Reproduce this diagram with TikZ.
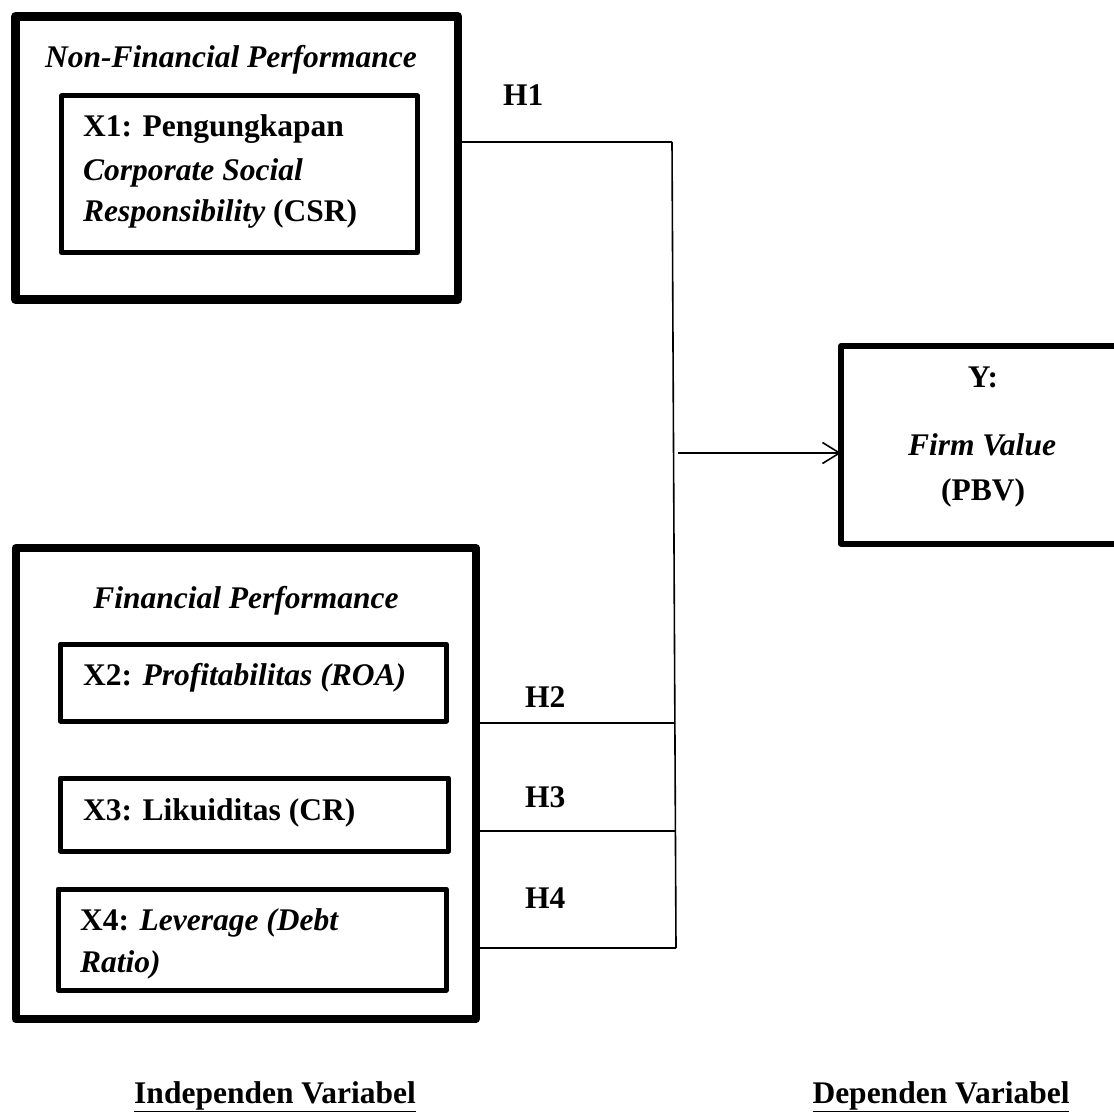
\documentclass[tikz,border=0pt]{standalone}
\usepackage{fontspec}
\setmainfont{Liberation Serif}
\usetikzlibrary{arrows.meta}
\begin{document}
\begin{tikzpicture}[x=1pt,y=-1pt,
  outerbox/.style={draw, line width=8.5pt, line join=round, inner sep=0pt, outer sep=0pt},
  innerbox/.style={draw, line width=5pt, line join=round, inner sep=0pt, outer sep=0pt},
  ybox/.style={draw, line width=6pt, line join=round, inner sep=0pt, outer sep=0pt},
  txt/.style={inner sep=0pt, font=\fontsize{31.5}{42}\selectfont\bfseries},
  conn/.style={line width=1.6pt}]
\clip (0,0) rectangle (1114,1113);
\fill[white] (0,0) rectangle (1114,1113);

% boxes
\node[outerbox, minimum width=442.5pt, minimum height=283pt] (o1) at (236.75,158) {};
\node[innerbox, minimum width=356pt, minimum height=156.5pt] (x1) at (239.5,174.25) {};
\node[outerbox, line width=8pt, minimum width=460.5pt, minimum height=471pt] (o2) at (245.75,783.5) {};
\node[innerbox, minimum width=385.5pt, minimum height=77pt] (x2) at (253.25,682.5) {};
\node[innerbox, minimum width=388pt, minimum height=73pt] (x3) at (254.5,814.5) {};
\node[innerbox, minimum width=388pt, minimum height=101pt] (x4) at (252,939.5) {};
\node[ybox, minimum width=284pt, minimum height=197.5pt] (y) at (983,444.75) {};

% texts
\node[txt, anchor=base] (t1) at (231,68) {\itshape Non-Financial Performance};
\node[txt, anchor=base west] (t1a) at (83,137) {X1: Pengungkapan};
\node[txt, anchor=base west] (t1b) at (83,180) {\itshape Corporate Social};
\node[txt, anchor=base west] (t1c) at (83,221) {\itshape Responsibility\/\upshape{} (CSR)};
\node[txt, anchor=base] (t2) at (246,608) {\itshape Financial Performance};
\node[txt, anchor=base west] (t2a) at (83,685) {X2: \itshape Profitabilitas (ROA)};
\node[txt, anchor=base west] (t3a) at (83,820) {X3: Likuiditas (CR)};
\node[txt, anchor=base west] (t4a) at (80,930) {X4: \itshape Leverage (Debt};
\node[txt, anchor=base west] (t4b) at (80,972) {\itshape Ratio)};
\node[txt, anchor=base] (ty1) at (983,387) {Y:};
\node[txt, anchor=base] (ty2) at (982,455) {\itshape Firm Value};
\node[txt, anchor=base] (ty3) at (983,500) {(PBV)};
\node[txt, anchor=base west] (h1) at (503,106) {H1};
\node[txt, anchor=base west] (h2) at (525,707) {H2};
\node[txt, anchor=base west] (h3) at (525,807) {H3};
\node[txt, anchor=base west] (h4) at (525,908) {H4};
\node[txt, anchor=base] (ind) at (275,1103) {\underline{Independen Variabel}};
\node[txt, anchor=base] (dep) at (941,1103) {\underline{Dependen Variabel}};

% connectors
\coordinate (j1) at (672,142);
\coordinate (j2) at (675,723);
\coordinate (j3) at (675.5,831);
\coordinate (j4) at (676,948);
\coordinate (ja) at (673,453);
\draw[conn] (j1) -- (j4);
\draw[conn] (o1.east |- j1) -- (j1);
\draw[conn] (o2.east |- j2) -- (j2);
\draw[conn] (o2.east |- j3) -- (j3);
\draw[conn] (o2.east |- j4) -- (j4);
\draw[conn, -{Straight Barb[length=17pt,width=21pt,line width=1.6pt]}] ([xshift=5pt]ja) -- (ja -| y.west);
\end{tikzpicture}
\end{document}
